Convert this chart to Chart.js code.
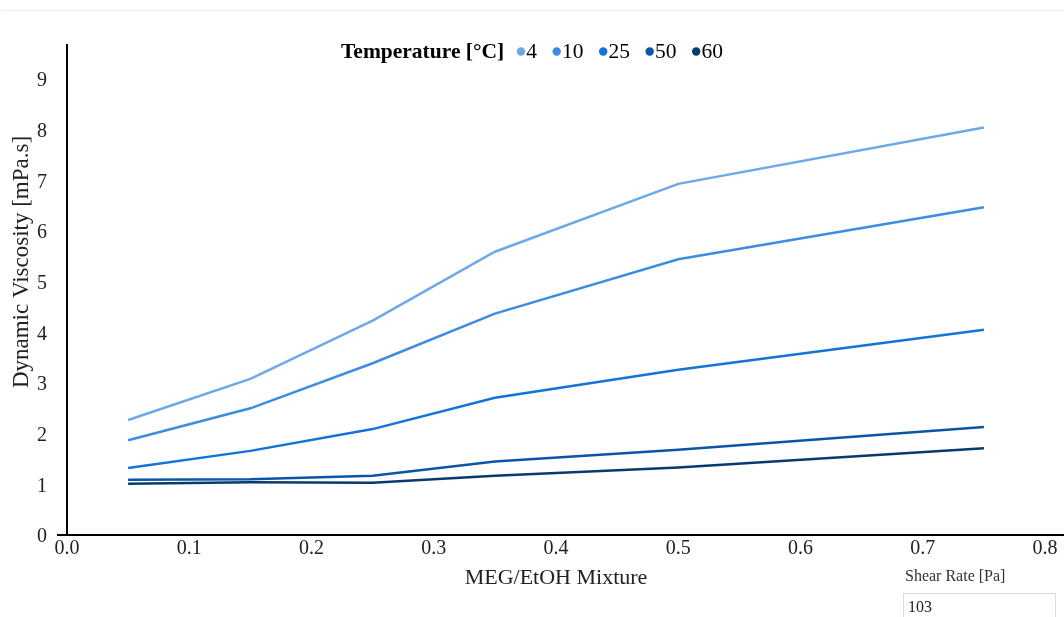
<!DOCTYPE html>
<html>
<head>
<meta charset="utf-8">
<script src="https://cdn.jsdelivr.net/npm/chart.js@4/dist/chart.umd.min.js"></script>
<style>
  html, body { margin: 0; padding: 0; background: #fff; }
  body { width: 1064px; height: 617px; position: relative; overflow: hidden; font-family: "Liberation Serif", "Times New Roman", serif; }
  #topRule { position: absolute; left: 2px; right: 0; top: 10px; height: 1px; background: #ececec; }
  #chartBox { position: absolute; left: 0; top: 0; width: 1064px; height: 594px; }
  #shearLabel { position: absolute; left: 905px; top: 567px; font-size: 16px; color: #333; white-space: nowrap; }
  #shearBox { position: absolute; left: 903px; top: 593px; width: 153px; height: 40px; border: 1px solid #dcdcdc; box-sizing: border-box; font-size: 16px; color: #222; padding: 4px 0 0 4px; }
</style>
</head>
<body>
<div id="topRule"></div>
<div id="chartBox"><canvas id="chart" width="1064" height="594"></canvas></div>
<div id="shearLabel">Shear Rate [Pa]</div>
<div id="shearBox">103</div>
<script>
// MEG/EtOH mixture fraction
const mixture = [0.05, 0.15, 0.25, 0.35, 0.5, 0.75];

// Dynamic viscosity [mPa.s] per temperature
const temperatures = ['4', '10', '25', '50', '60'];
const visc4  = [2.27, 3.08, 4.23, 5.59, 6.93, 8.04];
const visc10 = [1.87, 2.50, 3.39, 4.37, 5.44, 6.47];
const visc25 = [1.32, 1.66, 2.09, 2.71, 3.26, 4.05];
const visc50 = [1.09, 1.10, 1.17, 1.45, 1.68, 2.13];
const visc60 = [1.01, 1.04, 1.03, 1.17, 1.33, 1.71];

const seriesValues = [visc4, visc10, visc25, visc50, visc60];
const seriesColors = ['#6da9e8', '#3c8de0', '#1273d8', '#0a56a6', '#073a70'];

const FONT = '"Liberation Serif", "Times New Roman", serif';

const datasets = temperatures.map((t, i) => ({
  label: t,
  data: mixture.map((x, j) => ({ x: x, y: seriesValues[i][j] })),
  borderColor: seriesColors[i],
  backgroundColor: seriesColors[i],
  borderWidth: 2.5,
  pointRadius: 0,
  pointHoverRadius: 0,
  tension: 0,
  fill: false
}));

// Inline legend with a bold heading, plus the two axis titles
const decorations = {
  id: 'decorations',
  afterDraw(chart) {
    const ctx = chart.ctx;
    ctx.save();
    ctx.fillStyle = '#000';
    ctx.textBaseline = 'alphabetic';
    ctx.textAlign = 'left';

    // legend
    let x = 341;
    const base = 58;
    ctx.font = 'bold 21.5px ' + FONT;
    ctx.fillText('Temperature [°C]', x, base);
    x += ctx.measureText('Temperature [°C]').width + 12.5;
    ctx.font = '21.5px ' + FONT;
    chart.data.datasets.forEach(ds => {
      ctx.beginPath();
      ctx.fillStyle = ds.borderColor;
      ctx.arc(x + 4.2, 51.5, 4.2, 0, Math.PI * 2);
      ctx.fill();
      ctx.fillStyle = '#000';
      ctx.fillText(ds.label, x + 9.5, base);
      x += 9.5 + ctx.measureText(ds.label).width + 15.5;
    });

    // axis titles
    ctx.font = '22px ' + FONT;
    ctx.textAlign = 'center';
    ctx.textBaseline = 'middle';
    ctx.fillStyle = '#222';
    ctx.fillText('MEG/EtOH Mixture', 556, 578);
    ctx.font = '23px ' + FONT;
    ctx.translate(22, 262);
    ctx.rotate(-Math.PI / 2);
    ctx.fillText('Dynamic Viscosity [mPa.s]', 0, 0);
    ctx.restore();
  }
};

new Chart(document.getElementById('chart'), {
  type: 'line',
  data: { datasets },
  plugins: [decorations],
  options: {
    responsive: false,
    animation: false,
    events: [],
    layout: { padding: { top: 45, right: 0, bottom: 0, left: 0 } },
    plugins: { legend: { display: false }, tooltip: { enabled: false }, title: { display: false } },
    scales: {
      x: {
        type: 'linear',
        min: 0,
        max: 0.8155,
        afterFit(scale) { scale.height = 59; },
        grid: { display: false, drawTicks: false },
        border: { display: true, color: '#000', width: 2 },
        ticks: {
          stepSize: 0.1,
          includeBounds: false,
          padding: 2,
          color: '#222',
          font: { family: FONT, size: 20 },
          maxRotation: 0,
          callback: v => Number(v).toFixed(1)
        }
      },
      y: {
        type: 'linear',
        min: 0,
        max: 9.67,
        afterFit(scale) { scale.width = 67; },
        grid: {
          display: true,
          drawOnChartArea: false,
          drawTicks: true,
          tickLength: 10,
          lineWidth: 2,
          color: c => (c.tick && c.tick.value === 0 ? '#000' : 'rgba(0,0,0,0)')
        },
        border: { display: true, color: '#000', width: 2 },
        ticks: {
          stepSize: 1,
          includeBounds: false,
          padding: 10,
          labelOffset: 2,
          color: '#222',
          font: { family: FONT, size: 20 }
        }
      }
    }
  }
});
</script>
</body>
</html>
